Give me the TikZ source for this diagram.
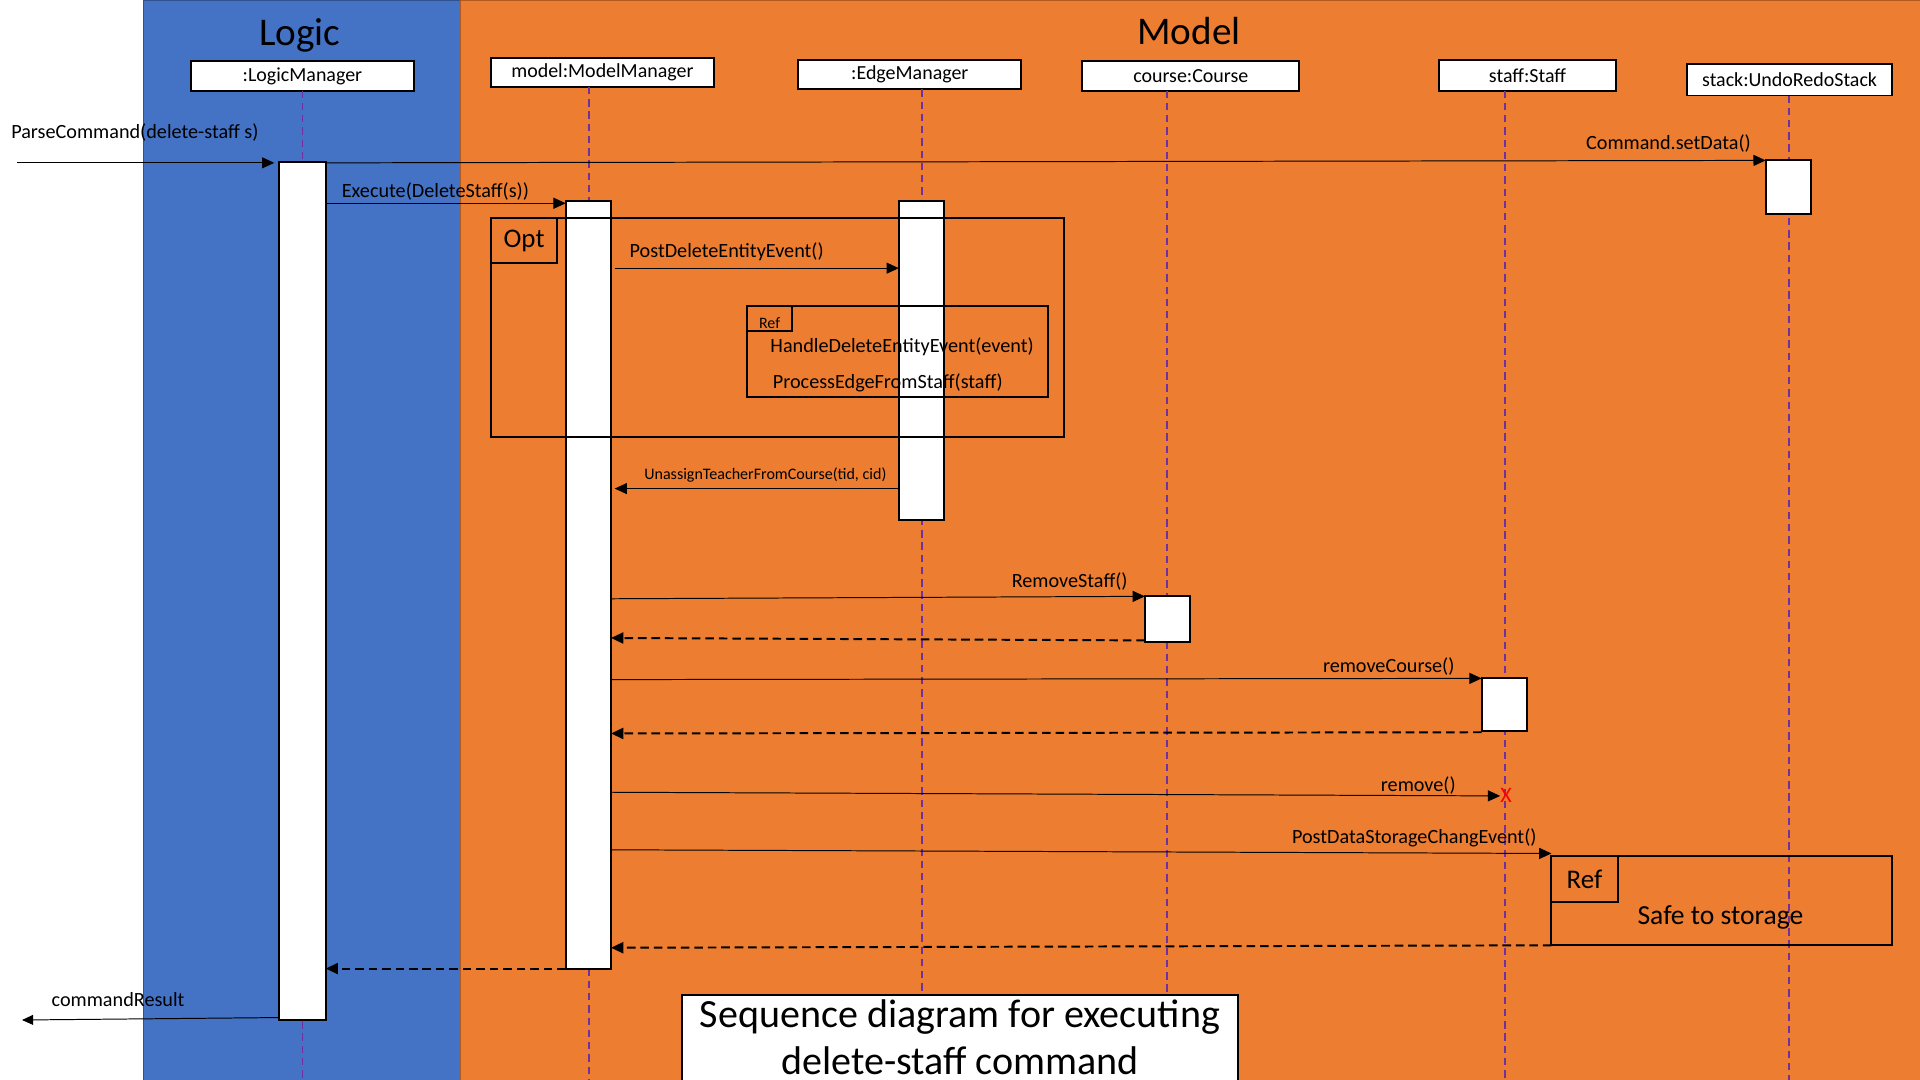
\documentclass[tikz,border=0pt]{standalone}
\usepackage{fontspec}
\setmainfont{Carlito}
\usetikzlibrary{arrows.meta,calc}
\definecolor{logicblue}{HTML}{4472C4}
\definecolor{logicedge}{HTML}{2F528F}
\definecolor{modelorange}{HTML}{ED7D31}
\definecolor{modeledge}{HTML}{AE5A21}
\definecolor{lifepurple}{HTML}{7030A0}
\definecolor{killred}{HTML}{FF0000}
\begin{document}
\begin{tikzpicture}[x=1pt,y=-1pt,
  head/.style={draw=black,fill=white,line width=1.6pt,inner sep=0pt,outer sep=0pt,font=\fontsize{16.3}{19}\selectfont},
  actbar/.style={draw=black,fill=white,line width=1.6pt,inner sep=0pt,outer sep=0pt,anchor=north west},
  life/.style={draw=lifepurple,line width=1.2pt,dash pattern=on 6pt off 4pt},
  msg/.style={draw=black,line width=0.8pt,-{Triangle[length=10pt,width=9pt]}},
  ret/.style={draw=black,line width=1.6pt,dash pattern=on 7pt off 4pt,-{Triangle[length=10pt,width=9pt]}},
  mlabel/.style={inner sep=0pt,font=\fontsize{16.5}{19}\selectfont},
  frm/.style={draw=black,line width=1.6pt,inner sep=0pt,outer sep=0pt,anchor=north west},
  tagbox/.style={draw=black,line width=1.6pt,inner sep=0pt,outer sep=0pt,anchor=north west},
  title/.style={inner sep=0pt,font=\fontsize{32}{38}\selectfont},
]
\useasboundingbox (0,0) rectangle (1568,882);
% swim lanes
\fill[white] (0,0) rectangle (1568,882);
\filldraw[fill=logicblue,draw=logicedge,line width=1pt] (117,0) rectangle (376,884);
\filldraw[fill=modelorange,draw=modeledge,line width=1pt] (376,0) rectangle (1570,884);
\node[title] (tlogic) at (245,29) {Logic};
\node[title] (tmodel) at (971,25.5) {Model};

% heads
\node[head,minimum width=182pt,minimum height=24pt] (lm) at (247,62) {\raisebox{-1.5pt}{:LogicManager}};
\node[head,minimum width=182pt,minimum height=24pt] (mm) at (492,59) {\raisebox{-1.5pt}{model:ModelManager}};
\node[head,minimum width=182pt,minimum height=24pt] (em) at (743,61) {\raisebox{-1.5pt}{:EdgeManager}};
\node[head,minimum width=177pt,minimum height=24pt] (cc) at (972.5,62) {\raisebox{-1.5pt}{course:Course}};
\node[head,minimum width=145pt,minimum height=25pt] (st) at (1247.5,61.5) {\raisebox{-1.5pt}{staff:Staff}};
\node[head,minimum width=167pt,minimum height=26pt] (us) at (1461.5,65) {\raisebox{-1.5pt}{stack:UndoRedoStack}};

% lifelines
\draw[life] (247,74) -- (247,884);
\draw[life] (481,71) -- (481,884);
\draw[life] (753,73) -- (753,884);
\draw[life] (953,74) -- (953,884);
\draw[life] (1229,74) -- (1229,884);
\draw[life] (1461,78) -- (1461,884);

% activation bars
\node[actbar,minimum width=38pt,minimum height=701pt] (lmb) at (228,132) {};
\node[actbar,minimum width=37pt,minimum height=627pt] (mmb) at (462,164) {};
\node[actbar,minimum width=37pt,minimum height=261pt] (emb) at (734,164) {};
\node[actbar,minimum width=37pt,minimum height=44pt] (usb) at (1442,131) {};
\node[actbar,minimum width=37pt,minimum height=37pt] (ccb) at (935,487) {};
\node[actbar,minimum width=37pt,minimum height=43pt] (stb) at (1210,554) {};

% Opt fragment
\node[frm,minimum width=468pt,minimum height=179pt] (opt) at (401,178) {};
\node[tagbox,minimum width=54pt,minimum height=37pt,font=\fontsize{22}{26}\selectfont] (optl) at (opt.north west) {\raisebox{-2.5pt}{Opt}};

% Ref fragment inside Opt
\node[frm,minimum width=246pt,minimum height=74pt] (ref1) at (610,250) {};
\node[tagbox,minimum width=37pt,minimum height=20pt] (ref1l) at (ref1.north west) {};
\node[inner sep=0pt,font=\fontsize{13}{15}\selectfont] (ref1t) at (628.5,264) {Ref};
\node[mlabel,anchor=west] (ref1a) at (629,283.5) {HandleDeleteEntityEvent(event)};
\node[mlabel,anchor=west] (ref1b) at (631,312.5) {ProcessEdgeFromStaff(staff)};

% Ref fragment storage
\node[frm,minimum width=278pt,minimum height=73pt] (ref2) at (1267,699) {};
\node[tagbox,minimum width=54pt,minimum height=38pt,font=\fontsize{22}{26}\selectfont] (ref2l) at (ref2.north west) {\raisebox{-2pt}{Ref}};
\node[inner sep=0pt,font=\fontsize{22.5}{26}\selectfont] (ref2t) at (1405,749) {Safe to storage};

% destruction mark
\node[text=killred,inner sep=0pt,font=\fontsize{18}{20}\selectfont] (kill) at (1230,650) {X};

% messages
\coordinate (pcstart) at (14,133);
\draw[msg] (pcstart) -- ($(lmb.north west)+(-4,1)$);
\node[mlabel,anchor=west] (pcl) at (9,108.5) {ParseCommand(delete-staff s)};

\draw[msg] ($(lmb.north east)+(0,1)$) -- (usb.north west);
\node[mlabel,anchor=east] (sdl) at (1430,117.5) {Command.setData()};

\draw[msg] ($(lmb.north east)+(0,34)$) -- ($(mmb.north west)+(0,2)$);
\node[mlabel,anchor=west] (exl) at (279,156.5) {Execute(DeleteStaff(s))};

\draw[msg] ($(mmb.north east)+(3,55)$) -- ($(emb.north west)+(0,55)$);
\node[mlabel,anchor=west] (pdl) at (514,205.5) {PostDeleteEntityEvent()};

\draw[msg] ($(emb.north west)+(0,235)$) -- ($(mmb.north east)+(3,235)$);
\node[inner sep=0pt,anchor=west,font=\fontsize{13.1}{15}\selectfont] (unl) at (526,388) {UnassignTeacherFromCourse(tid, cid)};

\draw[msg] ($(mmb.north east)+(0,325)$) -- (ccb.north west);
\node[mlabel,anchor=east] (rsl) at (921,474.5) {RemoveStaff()};
\draw[ret] ($(ccb.south west)+(0,-1)$) -- ($(mmb.north east)+(0,357)$);

\draw[msg] ($(mmb.north east)+(0,391)$) -- (stb.north west);
\node[mlabel,anchor=east] (rcl) at (1188,544.5) {removeCourse()};
\draw[ret] ($(stb.south west)+(0,1)$) -- ($(mmb.north east)+(0,435)$);

\draw[msg] ($(mmb.north east)+(0,483)$) -- (kill.west);
\node[mlabel,anchor=east] (rml) at (1189,641.5) {remove()};

\draw[msg] ($(mmb.north east)+(0,530)$) -- ($(ref2.north west)+(0,-2)$);
\node[mlabel,anchor=east] (psl) at (1255,684.5) {PostDataStorageChangEvent()};
\draw[ret] (ref2.south west) -- ($(mmb.north east)+(0,610)$);

\draw[ret] (mmb.south west) -- ($(lmb.north east)+(0,659)$);

\coordinate (crend) at (18,833);
\draw[msg,-{Triangle[length=9pt,width=8pt]}] ($(lmb.south west)+(0,-2)$) -- (crend);
\node[mlabel,anchor=west] (crl) at (42,816.5) {commandResult};

% caption
\node[draw=black,fill=white,line width=1.6pt,inner sep=0pt,minimum width=454pt,minimum height=74pt,anchor=north] (cap) at (784,812) {};
\node[align=center,inner sep=0pt,font=\fontsize{32.7}{38}\selectfont] (captxt) at (784,847) {Sequence diagram for executing\\delete-staff command};
\end{tikzpicture}
\end{document}
